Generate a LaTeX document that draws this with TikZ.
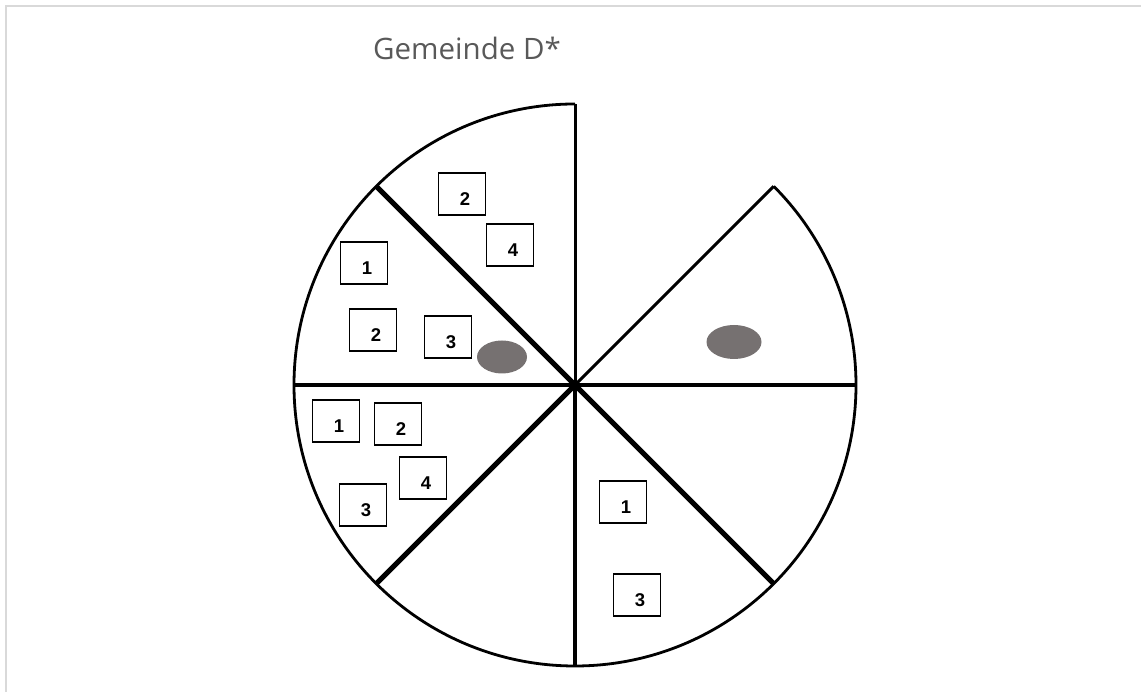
\documentclass[tikz,border=0pt]{standalone}
\usepackage{fontspec}
\setmainfont{Liberation Sans}
\newfontfamily\titlefont{Open Sans}
\newfontfamily\numfont{Liberation Sans Bold}
\usetikzlibrary{shapes.geometric}
\definecolor{framegray}{HTML}{D9D9D9}
\definecolor{titlegray}{HTML}{595959}
\definecolor{dotgray}{HTML}{767171}
\tikzset{
  numbox/.style={draw=black, line width=1.2pt, minimum width=47pt, minimum height=42pt, inner sep=0pt,
    label={[font=\numfont\fontsize{18.5}{18.5}\selectfont, xshift=3pt, yshift=-5pt, inner sep=0pt]center:#1}},
  dot/.style={ellipse, fill=dotgray, draw=none, inner sep=0pt},
  rim/.style={line width=2.8pt},
}
\begin{document}
\begin{tikzpicture}[x=1pt,y=1pt]
\useasboundingbox (0,0) rectangle (1141,692);
% frame
\draw[framegray, line width=2pt] (6,0) -- (6,686) -- (1141,686);
% title
\node[font=\titlefont\fontsize{29.5}{30}\selectfont, text=titlegray] (title) at (467,644) {Gemeinde D*};
% pie
\coordinate (c) at (575,307);
\path (c) ++(0:281) coordinate (e0)
      (c) ++(45:281) coordinate (e45)
      (c) ++(90:281) coordinate (e90)
      (c) ++(135:281) coordinate (e135)
      (c) ++(180:281) coordinate (e180)
      (c) ++(225:281) coordinate (e225)
      (c) ++(270:281) coordinate (e270)
      (c) ++(315:281) coordinate (e315);
\draw[rim] (e90) arc[start angle=90, end angle=405, radius=281];
\draw[line width=4pt] (c) -- (e0);
\draw[line width=3pt] (c) -- (e45);
\draw[line width=3pt] (c) -- (e90);
\draw[line width=5pt] (c) -- (e135);
\draw[line width=4.5pt] (c) -- (e180);
\draw[line width=5pt] (c) -- (e225);
\draw[line width=4pt] (c) -- (e270);
\draw[line width=5pt] (c) -- (e315);
% top sector
\node[numbox=2] (t2) at (462,498) {};
\node[numbox=4] (t4) at (510,447) {};
% upper-left sector
\node[numbox=1] (ul1) at (364,429) {};
\node[numbox=2] (ul2) at (373,362) {};
\node[numbox=3] (ul3) at (448,355) {};
\node[dot, minimum width=50pt, minimum height=33pt] (ulDot) at (502,335) {};
% lower-left sector
\node[numbox=1] (ll1) at (336,271) {};
\node[numbox=2] (ll2) at (398,268) {};
\node[numbox=4] (ll4) at (423,214) {};
\node[numbox=3] (ll3) at (363,187) {};
% lower-right sector
\node[numbox=1] (lr1) at (623,190) {};
\node[numbox=3] (lr3) at (637,97) {};
% right sector
\node[dot, minimum width=55pt, minimum height=34pt] (rDot) at (734,350) {};
\end{tikzpicture}
\end{document}
